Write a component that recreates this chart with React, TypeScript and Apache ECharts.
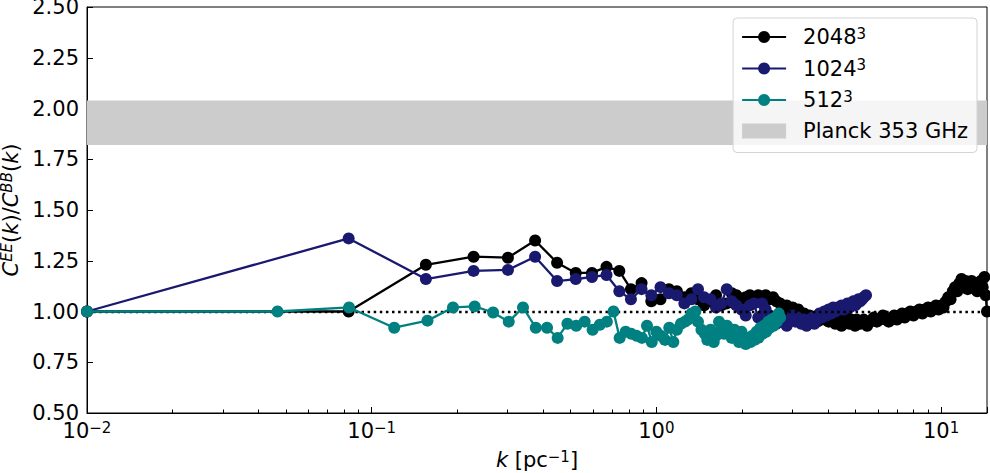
import React, { useEffect, useRef } from "react";
import * as echarts from "echarts";

const FONT = "DejaVu Sans";

// legend names (box sizes, shown as N^3) and their colours
const resolutions = ["2048", "1024", "512"];
const seriesColors = ["#000000", "#191970", "#008080"];

// [k in pc^-1, C_EE(k) / C_BB(k)]
const ratio2048: [number, number][] = [
    [0.01, 1.0], [0.083, 1.0], [0.155, 1.23], [0.228, 1.27], [0.301, 1.265],
    [0.375, 1.35], [0.448, 1.24], [0.521, 1.19], [0.594, 1.19], [0.668, 1.22],
    [0.741, 1.2], [0.814, 1.11], [0.887, 1.14], [0.96, 1.05], [1.034, 1.06],
    [1.107, 1.11], [1.18, 1.1], [1.254, 1.07], [1.327, 1.09], [1.4, 1.06],
    [1.47, 1.03], [1.55, 1.05], [1.62, 1.08], [1.69, 1.03], [1.767, 1.04],
    [1.84, 1.09], [1.91, 1.08], [1.99, 1.06], [2.06, 1.07], [2.13, 1.08],
    [2.2, 1.07], [2.28, 1.08], [2.35, 1.07], [2.42, 1.08], [2.5, 1.06],
    [2.57, 1.07], [2.64, 1.05], [2.72, 1.04], [2.79, 1.02], [2.87, 1.03],
    [2.94, 1.0], [3.01, 1.02], [3.08, 0.99], [3.15, 1.01], [3.23, 0.97],
    [3.3, 0.99], [3.37, 0.96], [3.45, 0.98], [3.52, 0.95], [3.59, 0.97],
    [3.67, 0.95], [3.74, 0.98], [3.81, 0.96], [3.89, 0.99], [3.96, 0.97],
    [4.03, 0.95], [4.11, 0.98], [4.18, 0.96], [4.25, 0.94], [4.33, 0.97],
    [4.4, 0.95], [4.47, 0.93], [4.55, 0.96], [4.62, 0.95], [4.69, 0.97],
    [4.77, 0.94], [4.84, 0.96], [4.91, 0.95], [4.99, 0.93], [5.06, 0.96],
    [5.2, 0.94], [5.35, 0.96], [5.5, 0.93], [5.65, 0.95], [5.8, 0.97],
    [5.95, 0.95], [6.1, 0.96], [6.25, 0.98], [6.4, 0.96], [6.55, 0.95],
    [6.7, 0.97], [6.85, 0.98], [7.0, 0.96], [7.15, 0.98], [7.3, 0.99],
    [7.45, 0.97], [7.6, 0.99], [7.8, 1.0], [8.0, 0.98], [8.2, 1.0],
    [8.4, 1.01], [8.6, 0.99], [8.8, 1.01], [9.0, 1.02], [9.2, 1.0],
    [9.4, 1.02], [9.6, 1.03], [9.8, 1.01], [10.0, 1.03], [10.2, 1.02],
    [10.4, 1.05], [10.6, 1.07], [10.8, 1.06], [11.0, 1.1], [11.2, 1.12],
    [11.4, 1.1], [11.6, 1.14], [11.8, 1.16], [12.0, 1.13], [12.2, 1.15],
    [12.4, 1.11], [12.6, 1.13], [12.8, 1.15], [13.0, 1.12], [13.2, 1.14],
    [13.4, 1.1], [13.6, 1.13], [13.8, 1.15], [14.0, 1.12], [14.2, 1.17],
    [14.35, 1.08], [14.5, 1.0],
];

const ratio1024: [number, number][] = [
    [0.01, 1.0], [0.083, 1.36], [0.155, 1.16], [0.228, 1.2], [0.301, 1.205],
    [0.375, 1.27], [0.448, 1.15], [0.521, 1.16], [0.594, 1.17], [0.668, 1.18],
    [0.741, 1.1], [0.814, 1.06], [0.887, 1.11], [0.96, 1.08], [1.034, 1.12],
    [1.107, 1.09], [1.18, 1.08], [1.254, 1.04], [1.327, 1.06], [1.4, 1.11],
    [1.47, 1.07], [1.55, 1.06], [1.62, 1.02], [1.69, 1.04], [1.767, 1.11],
    [1.84, 1.05], [1.91, 1.03], [1.99, 1.01], [2.06, 0.98], [2.13, 1.03],
    [2.2, 1.04], [2.28, 0.97], [2.35, 1.04], [2.42, 1.01], [2.5, 0.98],
    [2.57, 0.96], [2.64, 0.94], [2.72, 0.97], [2.79, 0.95], [2.87, 0.93],
    [2.94, 0.96], [3.01, 0.98], [3.08, 0.95], [3.15, 0.97], [3.23, 0.94],
    [3.3, 0.96], [3.37, 0.93], [3.45, 0.95], [3.52, 0.97], [3.59, 0.94],
    [3.67, 0.96], [3.74, 0.99], [3.81, 0.97], [3.89, 1.0], [3.96, 0.98],
    [4.03, 1.01], [4.11, 0.99], [4.18, 1.02], [4.25, 1.0], [4.33, 1.02],
    [4.4, 1.01], [4.47, 1.03], [4.55, 1.01], [4.62, 1.02], [4.69, 1.04],
    [4.77, 1.02], [4.84, 1.03], [4.91, 1.05], [4.99, 1.03], [5.06, 1.04],
    [5.13, 1.06], [5.2, 1.05], [5.28, 1.06], [5.35, 1.07], [5.45, 1.08],
];

const ratio512: [number, number][] = [
    [0.01, 1.0], [0.0467, 1.0], [0.0833, 1.02], [0.12, 0.92], [0.157, 0.955],
    [0.193, 1.02], [0.23, 1.025], [0.267, 0.995], [0.303, 0.95], [0.34, 1.02],
    [0.377, 0.92], [0.413, 0.92], [0.45, 0.87], [0.487, 0.94], [0.523, 0.93],
    [0.56, 0.95], [0.597, 0.91], [0.633, 0.935], [0.67, 0.95], [0.707, 1.0],
    [0.743, 0.87], [0.78, 0.9], [0.817, 0.89], [0.853, 0.88], [0.89, 0.87],
    [0.927, 0.93], [0.963, 0.85], [1.0, 0.9], [1.037, 0.88], [1.073, 0.86],
    [1.11, 0.92], [1.147, 0.85], [1.18, 0.91], [1.22, 0.94], [1.26, 0.95],
    [1.29, 0.96], [1.33, 0.99], [1.37, 1.0], [1.4, 0.95], [1.44, 0.91],
    [1.48, 0.89], [1.51, 0.86], [1.55, 0.91], [1.59, 0.85], [1.62, 0.88],
    [1.66, 0.95], [1.7, 0.92], [1.73, 0.89], [1.77, 0.93], [1.81, 0.9],
    [1.84, 0.87], [1.88, 0.91], [1.92, 0.88], [1.95, 0.85], [1.99, 0.9],
    [2.03, 0.86], [2.06, 0.84], [2.1, 0.87], [2.14, 0.85], [2.17, 0.88],
    [2.21, 0.86], [2.25, 0.9], [2.28, 0.87], [2.32, 0.92], [2.36, 0.89],
    [2.39, 0.93], [2.43, 0.9], [2.47, 0.95], [2.5, 0.92], [2.54, 0.96],
    [2.58, 0.93], [2.61, 0.97], [2.65, 0.95], [2.69, 0.99], [2.72, 0.97],
];

const seriesData = [ratio2048, ratio1024, ratio512];

// Planck 353 GHz range
const planckName = "Planck 353 GHz";
const planckBand = [1.82, 2.04];

// axes
const kRange = [0.01, 14.5];
const yRange = [0.5, 2.5];
const yStep = 0.25;

const sup = { fontSize: 15, fontFamily: FONT, color: "#000", verticalAlign: "top", lineHeight: 7 };
const big = { fontSize: 21, fontFamily: FONT, color: "#000", lineHeight: 22 };

const App = () => {
    const chartRef = useRef<HTMLDivElement>(null);

    useEffect(() => {
        document.body.style.margin = "0";
        if (!chartRef.current) return;
        const chart = echarts.init(chartRef.current, null, { renderer: "svg" });

        const lines = resolutions.map((name, i) => ({
            name,
            type: "line",
            data: seriesData[i],
            symbol: "circle",
            symbolSize: 12,
            showSymbol: true,
            showAllSymbol: true,
            z: 2 + i,
            itemStyle: { color: seriesColors[i] },
            lineStyle: { color: seriesColors[i], width: 2.3 },
        }));

        chart.setOption({
            animation: false,
            textStyle: { fontFamily: FONT },
            grid: {
                left: 87,
                right: 3,
                top: 7,
                bottom: 60,
                containLabel: false,
                outerBoundsMode: "none",
                show: true,
                borderColor: "#000",
                borderWidth: 1,
            },
            legend: {
                orient: "vertical",
                right: 13,
                top: 18,
                padding: [8, 9, 11, 8],
                itemGap: 10,
                itemWidth: 44,
                itemHeight: 15,
                backgroundColor: "rgba(255,255,255,0.8)",
                borderColor: "#d4d4d4",
                borderWidth: 1,
                borderRadius: 4,
                data: [...resolutions, { name: planckName, icon: "rect" }],
                formatter: (name: string) =>
                    resolutions.includes(name) ? `{n|${name}}{s|3}` : `{n|${name}}`,
                textStyle: { padding: [0, 0, 0, 12], rich: { n: big, s: sup } },
            },
            xAxis: {
                type: "log",
                logBase: 10,
                min: kRange[0],
                max: kRange[1],
                axisLine: { lineStyle: { color: "#000", width: 1 } },
                axisTick: { inside: true, length: 6, lineStyle: { color: "#000" } },
                minorTick: { show: true, splitNumber: 9, length: 3.5, lineStyle: { color: "#000" } },
                splitLine: { show: false },
                axisLabel: {
                    margin: 7,
                    showMaxLabel: false,
                    formatter: (v: number) => {
                        const e = Math.log10(v);
                        if (Math.abs(e - Math.round(e)) > 1e-6) return "";
                        const n = Math.round(e);
                        return `{b|10}{s|${n < 0 ? "\u2212" + -n : n}}`;
                    },
                    rich: { b: big, s: sup },
                },
                name: "{i|k}{n| [pc}{s|\u22121}{n|]}",
                nameLocation: "middle",
                nameGap: 36,
                nameTextStyle: {
                    rich: { i: { ...big, fontStyle: "italic" }, n: big, s: sup },
                },
            },
            yAxis: {
                type: "value",
                min: yRange[0],
                max: yRange[1],
                interval: yStep,
                axisLine: { show: true, lineStyle: { color: "#000", width: 1 } },
                axisTick: { show: true, inside: true, length: 6, lineStyle: { color: "#000" } },
                splitLine: { show: false },
                axisLabel: {
                    margin: 8,
                    fontSize: 21,
                    color: "#000",
                    formatter: (v: number) => v.toFixed(2),
                },
                name: "{i|C}{s|EE}{n|(}{i|k}{n|)/}{i|C}{s|BB}{n|(}{i|k}{n|)}",
                nameLocation: "middle",
                nameGap: 55,
                nameTextStyle: {
                    rich: {
                        i: { ...big, fontStyle: "italic" },
                        n: big,
                        s: { ...sup, fontStyle: "italic", lineHeight: 11 },
                    },
                },
            },
            series: [
                {
                    name: planckName,
                    type: "line",
                    data: [],
                    z: 1,
                    itemStyle: { color: "#cccccc" },
                    lineStyle: { color: "#cccccc" },
                    markArea: {
                        silent: true,
                        itemStyle: { color: "#cccccc" },
                        data: [[{ yAxis: planckBand[0] }, { yAxis: planckBand[1] }]],
                    },
                },
                lines[0],
                lines[1],
                {
                    name: "unity",
                    type: "line",
                    data: [],
                    z: 4,
                    markLine: {
                        silent: true,
                        symbol: "none",
                        label: { show: false },
                        lineStyle: { color: "#000", width: 2.3, type: [2.5, 3.6] },
                        data: [{ yAxis: 1 }],
                    },
                },
                { ...lines[2], z: 5 },
            ],
        });

        return () => {
            chart.dispose();
        };
    }, []);

    return <div ref={chartRef} style={{ width: "990px", height: "473px" }} />;
};

export default App;
